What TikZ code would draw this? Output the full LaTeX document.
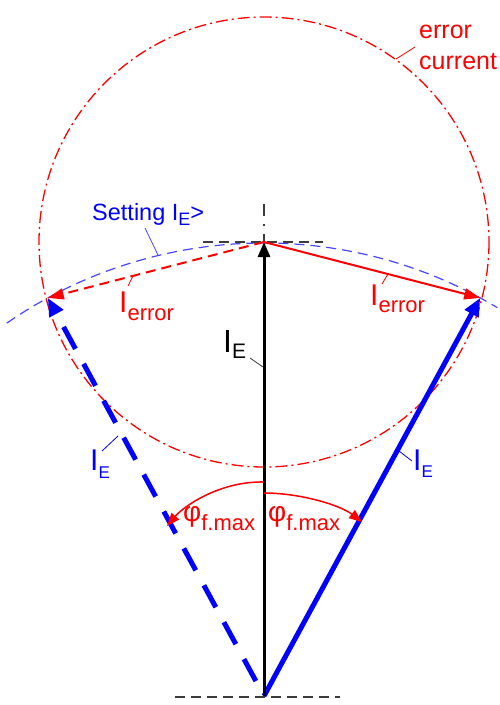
\documentclass[tikz,border=0pt]{standalone}
\usepackage{fontspec}
\setmainfont{Liberation Sans}
\usetikzlibrary{arrows.meta}
\definecolor{redc}{RGB}{255,0,0}
\definecolor{bluec}{RGB}{0,0,255}
\definecolor{setc}{RGB}{70,70,255}
\definecolor{guidec}{RGB}{60,60,60}
\tikzset{
 errcircle/.style={draw=redc, line width=1.3pt, dash pattern=on 12pt off 4pt on 2pt off 4pt},
 setarc/.style={draw=setc, line width=1.2pt, dash pattern=on 10pt off 6pt},
 guide/.style={draw=guidec, line width=1.8pt, dash pattern=on 10pt off 6pt},
 guidedd/.style={draw=guidec, line width=1.8pt, dash pattern=on 12pt off 8pt on 2pt off 8pt},
 vecE/.style={draw=black, line width=3pt, -{Triangle[length=15pt,width=12pt]}},
 vecB/.style={draw=bluec, line width=5pt, -{Triangle[length=18pt,width=15pt]}},
 vecBd/.style={vecB, dash pattern=on 25pt off 17pt, dash phase=25pt},
 vecR/.style={draw=redc, line width=2pt, -{Triangle[length=16pt,width=11pt]}},
 vecRd/.style={vecR, dash pattern=on 10pt off 6pt},
 phiarr/.style={draw=redc, line width=1.5pt, -{Triangle[length=13pt,width=10pt]}},
 lbl/.style={inner sep=0pt, anchor=base west},
 leader/.style={line width=0.8pt},
}
\begin{document}
\begin{tikzpicture}[x=1pt,y=-1pt]
\useasboundingbox (0,0) rectangle (499,705);
\coordinate (O) at (264,696);
\coordinate (T) at (264,242);
\coordinate (R) at (480.2,297.9);
\coordinate (L) at (47.8,297.9);

% error current circle and setting arc
\draw[errcircle] (T) circle[radius=225];
\draw[setarc] (6.8,323.1) arc[start angle=235.4, end angle=301, radius=453];

% guide lines
\draw[guide] (203,242) -- (323,242);
\draw[guide] (175,697) -- (340,697);
\draw[guidedd] (264,204) -- (T);

% vectors
\draw[vecB] (O) -- (R);
\draw[vecBd] (O) -- (L);
\draw[vecE] (O) -- (T);
\draw[vecR] (T) -- (R);
\draw[vecRd] (T) -- (L);

% angle arrows
\coordinate (pl0) at (264,482);
\coordinate (pl1) at (167,526);
\coordinate (pr0) at (264,493);
\coordinate (pr1) at (362,522);
\draw[phiarr] (pl0) .. controls (220,481) and (184,506) .. (pl1);
\draw[phiarr] (pr0) .. controls (300,493) and (340,505) .. (pr1);

% labels
\node[lbl, text=bluec] (setlbl) at (92,220)
  {\fontsize{23.5}{24}\selectfont Setting I\raisebox{-5pt}{\fontsize{18}{18}\selectfont E}>};
\coordinate (setA) at (145,228); \coordinate (setB) at (158,255);
\draw[leader, draw=setc] (setA) -- (setB);

\node[lbl, text=redc] (errL) at (119,312)
  {\fontsize{30}{30}\selectfont I\raisebox{-8pt}{\fontsize{22}{22}\selectfont error}};
\coordinate (eLA) at (128,286); \coordinate (eLB) at (133,276);
\draw[leader, draw=redc] (eLA) -- (eLB);

\node[lbl, text=redc] (errR) at (370,305)
  {\fontsize{30}{30}\selectfont I\raisebox{-7pt}{\fontsize{22}{22}\selectfont error}};
\coordinate (eRA) at (382,284); \coordinate (eRB) at (388,274);
\draw[leader, draw=redc] (eRA) -- (eRB);

\node[lbl, text=black] (ieB) at (223,352)
  {\fontsize{32}{32}\selectfont I\raisebox{-6pt}{\fontsize{21}{21}\selectfont E}};
\coordinate (iBA) at (250,358); \coordinate (iBB) at (263,367);
\draw[leader, draw=guidec] (iBA) -- (iBB);

\node[lbl, text=bluec] (ieL) at (90,470)
  {\fontsize{30}{30}\selectfont I\raisebox{-8pt}{\fontsize{17}{17}\selectfont E}};
\coordinate (iLA) at (102,451); \coordinate (iLB) at (118,436);
\draw[leader, draw=bluec] (iLA) -- (iLB);

\node[lbl, text=bluec] (ieR) at (413,470)
  {\fontsize{30}{30}\selectfont I\raisebox{-7pt}{\fontsize{17}{17}\selectfont E}};
\coordinate (iRA) at (399,451); \coordinate (iRB) at (412,461);
\draw[leader, draw=bluec] (iRA) -- (iRB);

\node[lbl, text=redc] (phiL) at (183,521)
  {\fontsize{28}{28}\selectfont φ\raisebox{-9pt}{\fontsize{22}{22}\selectfont f.max}};
\node[lbl, text=redc] (phiR) at (268,521)
  {\fontsize{28}{28}\selectfont φ\raisebox{-9pt}{\fontsize{22}{22}\selectfont f.max}};

\node[lbl, text=redc] (ec1) at (419,38) {\fontsize{25}{25}\selectfont error};
\node[lbl, text=redc] (ec2) at (419,69) {\fontsize{25}{25}\selectfont current};
\coordinate (ecA) at (415,47); \coordinate (ecB) at (396,59);
\draw[leader, draw=redc] (ecA) -- (ecB);
\end{tikzpicture}
\end{document}
